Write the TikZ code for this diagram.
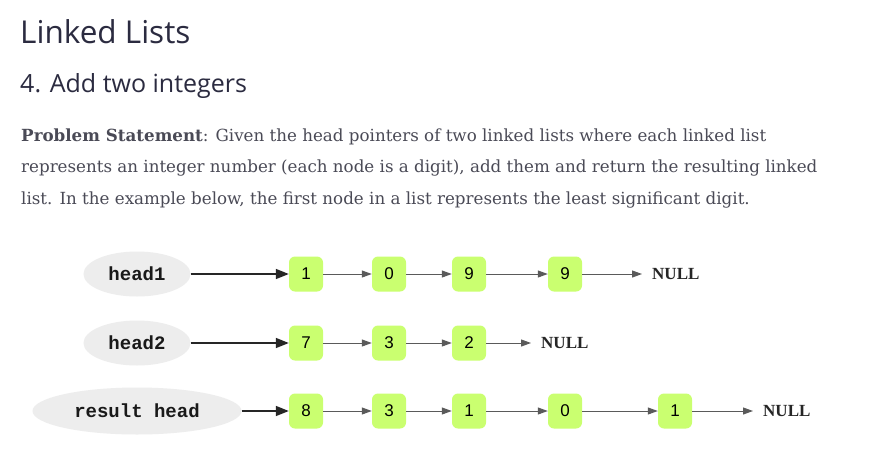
\documentclass[tikz,border=0pt]{standalone}
\usepackage{fontspec}
\setmainfont{DejaVu Serif}
\newfontfamily\headfont{Open Sans}
\newfontfamily\bodyfont{DejaVu Serif}
\newfontfamily\codefont{Liberation Mono}
\newfontfamily\digitfont{Liberation Sans}
\newfontfamily\nulltxt{Liberation Serif}
\usetikzlibrary{arrows.meta,shapes.geometric}
\definecolor{headc}{HTML}{2B2B40}
\definecolor{bodyc}{HTML}{4A4A56}
\definecolor{nodegreen}{HTML}{CAFF70}
\definecolor{ellgray}{HTML}{EDEDED}
\definecolor{arrgray}{HTML}{5A5A5A}
\tikzset{
  ptr/.style={ellipse, fill=ellgray, inner sep=0pt, font=\codefont\bfseries\fontsize{19}{19}\selectfont, text=black!90},
  digit/.style={rounded corners=6pt, fill=nodegreen, minimum width=34pt, minimum height=35pt, inner sep=0pt, font=\digitfont\fontsize{17}{17}\selectfont, text=black},
  nullnode/.style={anchor=west, inner sep=0pt, font=\nulltxt\bfseries\fontsize{17}{17}\selectfont, text=black!85},
  headarrow/.style={draw=black!85, line width=1.5pt, -{Triangle[length=13pt,width=10pt]}},
  nextarrow/.style={draw=arrgray, line width=1pt, -{Triangle[length=10pt,width=7pt]}},
  bodyline/.style={anchor=base west, inner sep=0pt, font=\bodyfont\fontsize{16.7}{16.7}\selectfont, text=bodyc},
}
\begin{document}
\begin{tikzpicture}[x=1pt,y=-1pt]
\useasboundingbox (0,0) rectangle (874,455);
\fill[white] (0,0) rectangle (874,455);
% headings
\node[anchor=base west, inner sep=0pt, font=\headfont\fontsize{31.5}{31.5}\selectfont, text=headc] (title) at (20,43) {Linked Lists};
\node[anchor=base west, inner sep=0pt, font=\headfont\fontsize{25}{25}\selectfont, text=headc] (sub) at (20,92) {4. Add two integers};
% paragraph
\node[bodyline] (l1) at (21,141) {\textbf{Problem Statement}: Given the head pointers of two linked lists where each linked list};
\node[bodyline] (l2) at (21,172.5) {represents an integer number (each node is a digit), add them and return the resulting linked};
\node[bodyline] (l3) at (21,204) {list. In the example below, the first node in a list represents the least significant digit.};
% row 1
\node[ptr, minimum width=107pt, minimum height=45pt] (h1) at (137,274) {head1};
\node[digit] (a1) at (306,274) {1};
\node[digit] (a2) at (389,274) {0};
\node[digit] (a3) at (469,274) {9};
\node[digit] (a4) at (565,274) {9};
\node[nullnode] (an) at (652,274) {NULL};
\draw[headarrow] (h1) -- (a1);
\draw[nextarrow] (a1) -- (a2);
\draw[nextarrow] (a2) -- (a3);
\draw[nextarrow] (a3) -- (a4);
\draw[nextarrow, shorten >=10pt] (a4) -- (an);
% row 2
\node[ptr, minimum width=107pt, minimum height=45pt] (h2) at (137,343) {head2};
\node[digit] (b1) at (306,343) {7};
\node[digit] (b2) at (389,343) {3};
\node[digit] (b3) at (469,343) {2};
\node[nullnode] (bn) at (541,343) {NULL};
\draw[headarrow] (h2) -- (b1);
\draw[nextarrow] (b1) -- (b2);
\draw[nextarrow] (b2) -- (b3);
\draw[nextarrow, shorten >=10pt] (b3) -- (bn);
% row 3
\node[ptr, minimum width=209pt, minimum height=47pt] (h3) at (137,411) {result head};
\node[digit] (c1) at (306,411) {8};
\node[digit] (c2) at (389,411) {3};
\node[digit] (c3) at (469,411) {1};
\node[digit] (c4) at (565,411) {0};
\node[digit] (c5) at (675,411) {1};
\node[nullnode] (cn) at (763,411) {NULL};
\draw[headarrow] (h3) -- (c1);
\draw[nextarrow] (c1) -- (c2);
\draw[nextarrow] (c2) -- (c3);
\draw[nextarrow] (c3) -- (c4);
\draw[nextarrow] (c4) -- (c5);
\draw[nextarrow, shorten >=10pt] (c5) -- (cn);
\end{tikzpicture}
\end{document}
